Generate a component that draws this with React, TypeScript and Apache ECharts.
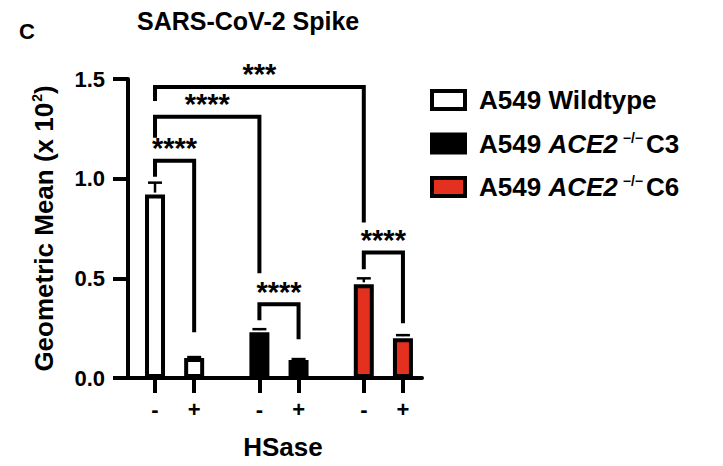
import React, { useEffect, useRef } from "react";
import * as echarts from "echarts";

// ---- data ----
const xPos = [0, 3, 8, 11, 16, 19];
const hsaseLabels = ["-", "+", "-", "+", "-", "+"];
const groupNames = ["A549 Wildtype", "A549 ACE2 -/- C3", "A549 ACE2 -/- C6"];
const groupColors = ["#ffffff", "#000000", "#e3301f"];
const wtMeans = [0.92, 0.1];
const c3Means = [0.23, 0.09];
const c6Means = [0.47, 0.2];
const wtUpper = [0.98, 0.105];
const c3Upper = [0.245, 0.095];
const c6Upper = [0.5, 0.215];
const yTicks = [0, 0.5, 1.0, 1.5];

const bracketX1 = [0, 0, 0, 8, 16];
const bracketX2 = [3, 8, 16, 11, 19];
const bracketTop = [1.09, 1.31, 1.46, 0.37, 0.63];
const bracketLeftEnd = [1.01, 1.205, 1.39, 0.29, 0.545];
const bracketRightEnd = [0.23, 0.525, 0.78, 0.195, 0.275];
const bracketLabels = ["****", "****", "***", "****", "****"];

const FONT = "'Liberation Sans', Arial, Helvetica, sans-serif";

export default function App() {
  const ref = useRef<HTMLDivElement>(null);
  useEffect(() => {
    document.body.style.margin = "0";
    if (!ref.current) return;
    const chart = echarts.init(ref.current, null, { renderer: "svg" });

    const allMeans = [...wtMeans, ...c3Means, ...c6Means];
    const allUpper = [...wtUpper, ...c3Upper, ...c6Upper];
    const groupMeans = [wtMeans, c3Means, c6Means];

    const barSeries = groupNames.map((name, g) => ({
      name,
      type: "bar",
      barWidth: 20,
      barGap: "-100%",
      itemStyle: { color: groupColors[g], borderColor: "#000", borderWidth: 4 },
      data: groupMeans[g].map((v, i) => [xPos[g * 2 + i], v]),
      z: 2,
    }));

    const legendRich = {
      b: { fontFamily: FONT, fontSize: 26, fontWeight: "bold", color: "#000", lineHeight: 26 },
      i: { fontFamily: FONT, fontSize: 26, fontWeight: "bold", fontStyle: "italic", color: "#000", lineHeight: 26 },
      s: { fontFamily: FONT, fontSize: 14, fontWeight: "bold", color: "#000", lineHeight: 14, padding: [0, 3, 12, 5] },
    };

    const option: any = {
      animation: false,
      textStyle: { fontFamily: FONT },
      title: [
        { text: "C", left: 14, top: 15, textStyle: { fontFamily: FONT, fontSize: 22, fontWeight: "bold", color: "#000" } },
        { text: "SARS-CoV-2 Spike", left: 132, top: 3, textStyle: { fontFamily: FONT, fontSize: 25, fontWeight: "bold", color: "#000" } },
      ],
      legend: {
        orient: "vertical",
        left: 425,
        top: 82,
        icon: "rect",
        itemWidth: 33,
        itemHeight: 18,
        itemGap: 17.5,
        data: groupNames,
        itemStyle: { borderColor: "#000", borderWidth: 4 },
        textStyle: { rich: legendRich, padding: [0, 0, 0, 9] },
        formatter: (name: string) => {
          const m = name.match(/^A549 ACE2 -\/- (C\d)$/);
          if (m) return `{b|A549 }{i|ACE2}{s|\u2212/\u2212}{b|${m[1]}}`;
          return `{b|${name}}`;
        },
      },
      grid: { left: 128, right: 301, top: 79, bottom: 88, containLabel: false },
      xAxis: {
        type: "value",
        min: -2.07,
        max: 20.46,
        splitLine: { show: false },
        axisLine: { show: true, onZero: false, lineStyle: { color: "#000", width: 4 } },
        axisTick: { show: true, customValues: xPos, length: 15, lineStyle: { color: "#000", width: 4 } },
        axisLabel: {
          show: true,
          customValues: xPos,
          margin: 20,
          fontFamily: FONT,
          fontSize: 22,
          fontWeight: "bold",
          color: "#000",
          formatter: (v: number) => {
            const idx = xPos.indexOf(Math.round(v));
            return idx >= 0 ? hsaseLabels[idx] : "";
          },
        },
        name: "HSase",
        nameLocation: "middle",
        nameGap: 56,
        nameTextStyle: { fontFamily: FONT, fontSize: 26, fontWeight: "bold", color: "#000", padding: [0, 0, 0, 16] },
      },
      yAxis: {
        type: "value",
        min: 0,
        max: 1.5,
        interval: 0.5,
        splitLine: { show: false },
        axisLine: { show: true, onZero: false, lineStyle: { color: "#000", width: 4 } },
        axisTick: { show: true, length: 15, lineStyle: { color: "#000", width: 4 } },
        axisLabel: {
          margin: 23,
          fontFamily: FONT,
          fontSize: 22,
          fontWeight: "bold",
          color: "#000",
          rich: {
            t: { fontFamily: FONT, fontSize: 22, fontWeight: "bold", color: "#000" },
          },
          formatter: (v: number) => (yTicks.indexOf(v) >= 0 ? `{t|${v.toFixed(1)}}` : ""),
        },
        name: "{a|Geometric Mean (x 10}{s|2}{a|)}",
        nameLocation: "middle",
        nameRotate: 90,
        nameGap: 70,
        nameTextStyle: {
          rich: {
            a: { fontFamily: FONT, fontSize: 26, fontWeight: "bold", color: "#000", lineHeight: 28 },
            s: { fontFamily: FONT, fontSize: 14, fontWeight: "bold", color: "#000", lineHeight: 14, padding: [0, 0, 14, 1] },
          },
        },
      },
      series: [
        ...barSeries,
        {
          type: "custom",
          name: "err",
          clip: false,
          z: 3,
          data: xPos.map((x, i) => [x, allMeans[i], allUpper[i]]),
          renderItem: (params: any, api: any) => {
            const x = api.value(0);
            const p0 = api.coord([x, api.value(1)]);
            const p1 = api.coord([x, api.value(2)]);
            return {
              type: "group",
              children: [
                { type: "line", shape: { x1: p0[0], y1: p0[1] - 2, x2: p1[0], y2: p1[1] }, style: { stroke: "#000", lineWidth: 2.5 } },
                { type: "line", shape: { x1: p1[0] - 7, y1: p1[1], x2: p1[0] + 7, y2: p1[1] }, style: { stroke: "#000", lineWidth: 2.5 } },
              ],
            };
          },
        },
        {
          type: "custom",
          name: "brackets",
          clip: false,
          z: 4,
          data: bracketX1.map((x1, i) => [x1, bracketX2[i], bracketTop[i], bracketLeftEnd[i], bracketRightEnd[i]]),
          renderItem: (params: any, api: any) => {
            const x1 = api.value(0), x2 = api.value(1);
            const top = api.value(2), yl = api.value(3), yr = api.value(4);
            const a = api.coord([x1, yl]);
            const b = api.coord([x1, top]);
            const c = api.coord([x2, top]);
            const d = api.coord([x2, yr]);
            return {
              type: "group",
              children: [
                {
                  type: "polyline",
                  shape: { points: [a, b, c, d] },
                  style: { stroke: "#000", lineWidth: 4, fill: "none", lineJoin: "miter" },
                },
                {
                  type: "text",
                  x: (b[0] + c[0]) / 2,
                  y: b[1] + 2,
                  style: {
                    text: bracketLabels[params.dataIndex],
                    fontFamily: FONT,
                    fontSize: 29,
                    fontWeight: "bold",
                    fill: "#000",
                    align: "center",
                    verticalAlign: "bottom",
                  },
                },
              ],
            };
          },
        },
      ],
    };
    chart.setOption(option);
    return () => chart.dispose();
  }, []);
  return <div ref={ref} style={{ width: 723, height: 466 }} />;
}
